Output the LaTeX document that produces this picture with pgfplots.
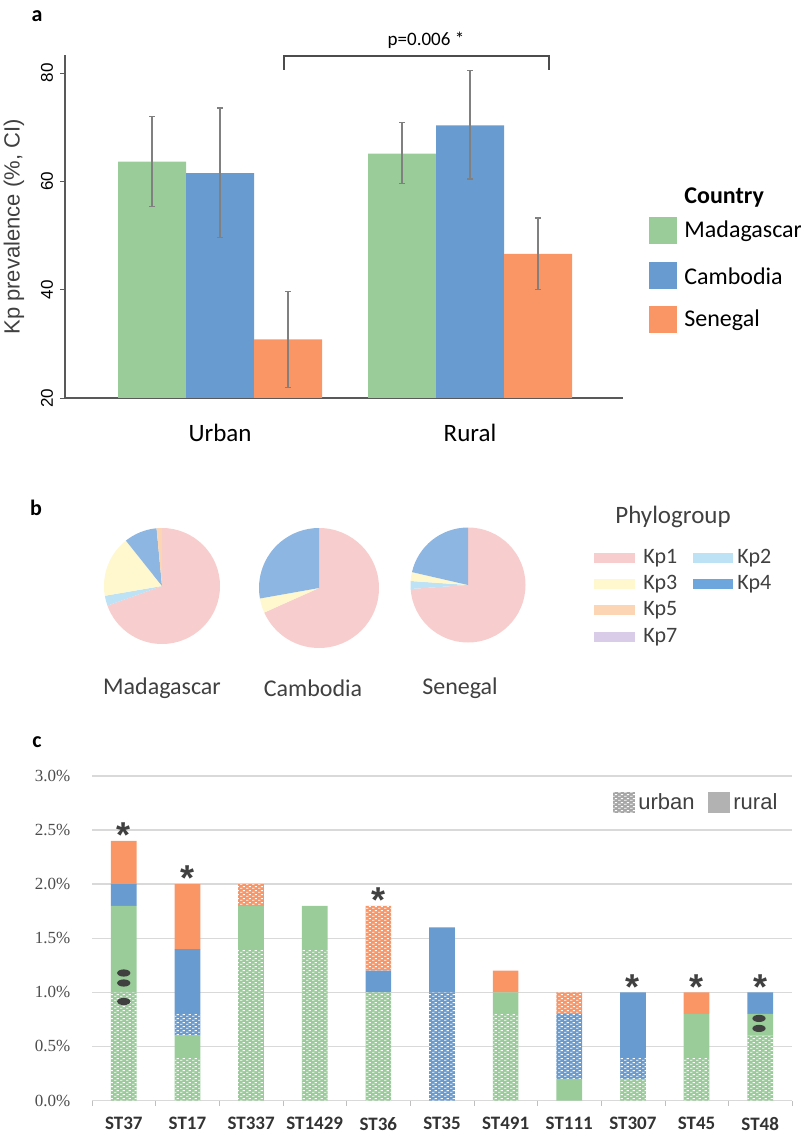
\documentclass[border=0pt]{standalone}
\usepackage{fontspec}
\setmainfont{Carlito}
\newfontfamily\arial{Liberation Sans}
\newfontfamily\tnr{Liberation Serif}
\usepackage{pgfplots}
\usepackage{pgfplotstable}
\pgfplotsset{compat=1.18}
\usetikzlibrary{patterns}

\pgfdeclarepatternformonly{ushade}{\pgfqpoint{0pt}{0pt}}{\pgfqpoint{3pt}{2pt}}{\pgfqpoint{3pt}{2pt}}{%
 \pgfpathrectangle{\pgfqpoint{0.1pt}{0.2pt}}{\pgfqpoint{1.3pt}{0.55pt}}%
 \pgfpathrectangle{\pgfqpoint{1.6pt}{1.2pt}}{\pgfqpoint{1.3pt}{0.55pt}}%
 \pgfusepath{fill}}

\definecolor{mg}{RGB}{153,204,153}
\definecolor{kh}{RGB}{104,155,208}
\definecolor{sn}{RGB}{250,150,102}
\definecolor{kpa}{RGB}{248,205,205}
\definecolor{kpb}{RGB}{189,226,245}
\definecolor{kpc}{RGB}{255,247,206}
\definecolor{kpd}{RGB}{141,182,226}
\definecolor{kpdl}{RGB}{108,166,220}
\definecolor{kpe}{RGB}{252,214,180}
\definecolor{kpg}{RGB}{216,204,232}
\definecolor{txt}{RGB}{64,64,64}

% panel c data: share of isolates (%)
\pgfplotstableread{
x st mgu mgr khu khr snu snr
0 ST37   1.0 0.8 0   0.2 0   0.4
1 ST17   0.4 0.2 0.2 0.6 0   0.6
2 ST337  1.4 0.4 0   0   0.2 0
3 ST1429 1.4 0.4 0   0   0   0
4 ST36   1.0 0   0   0.2 0.6 0
5 ST35   0   0   1.0 0.6 0   0
6 ST491  0.8 0.2 0   0   0   0.2
7 ST111  0   0.2 0.6 0   0.2 0
8 ST307  0.2 0   0.2 0.6 0   0
9 ST45   0.4 0.4 0   0   0   0.2
10 ST48  0.6 0.2 0   0.2 0   0
}\stdata

% pie slice: cx cy radius from% to% colour
\newcommand\pieslice[6]{\fill[#6] (axis cs:#1,#2) -- ++({90-3.6*#4}:#3) arc[start angle={90-3.6*#4}, end angle={90-3.6*#5}, radius=#3] -- cycle;}

\begin{document}
\begin{tikzpicture}
\path[use as bounding box] (0,0) rectangle (400pt,-566.5pt);

% ---------------- panel a ----------------
\begin{axis}[at={(32.5pt,-199pt)}, anchor=south west, scale only axis,
 width=279pt, height=171.5pt,
 xmin=-0.62, xmax=1.612, ymin=20, ymax=83.3,
 axis lines=left, axis line style={black!65, -, line width=0.6pt},
 ybar, bar width=0.272,
 xtick={0,1}, xticklabels={Urban,Rural},
 x tick style={draw=none},
 ytick={20,40,60,80}, tick align=outside, major tick length=2.5pt,
 y tick style={black!65},
 yticklabel style={rotate=90, anchor=south, font=\arial\fontsize{8.5}{9}\selectfont},
 xticklabel style={font=\fontsize{12.5}{14}\selectfont, yshift=-7pt},
 /pgf/number format/assume math mode=true,
 clip=false, enlargelimits=false,
 error bars/y dir=both, error bars/y explicit,
 error bars/error bar style={draw=black!50, line width=0.6pt},
 error bars/error mark options={rotate=90, draw=black!50, mark size=1.5pt, line width=0.6pt},
]
\addplot[fill=mg, draw=none, bar shift=-0.272] coordinates {(0,63.6) += (0,8.3) -= (0,8.2) (1,65.1) += (0,5.7) -= (0,5.5)};
\addplot[fill=kh, draw=none, bar shift=0] coordinates {(0,61.5) += (0,12.0) -= (0,11.9) (1,70.3) += (0,10.1) -= (0,9.9)};
\addplot[fill=sn, draw=none, bar shift=0.272] coordinates {(0,30.8) += (0,8.8) -= (0,8.8) (1,46.6) += (0,6.6) -= (0,6.6)};
\draw[black!70, line width=0.6pt] (axis cs:0.256,80.6) |- (axis cs:1.316,83.1) -- (axis cs:1.316,80.6);
\node[font=\fontsize{9.5}{11}\selectfont] at (axis cs:0.824,86.1) {p=0.006 *};
\end{axis}

% ---------------- panel c ----------------
\begin{axis}[at={(46pt,-550.25pt)}, anchor=south west, scale only axis,
 width=350pt, height=162.25pt,
 ybar stacked, bar width=0.404,
 xmin=-0.5, xmax=10.5, ymin=0, ymax=3,
 axis line style={draw=none},
 ymajorgrids, grid style={black!15, line width=0.7pt},
 ytick={0,0.5,...,3}, y tick style={draw=none},
 yticklabel={\pgfmathprintnumber[fixed,fixed zerofill,precision=1]{\tick}\%},
 yticklabel style={font=\tnr\fontsize{8.5}{9}\selectfont, text=black!70, xshift=-3pt},
 /pgf/number format/assume math mode=true,
 xtick=data, xticklabels from table={\stdata}{st},
 xtick pos=bottom, major x tick style={draw=none},
 minor xtick={-0.5,0.5,...,10.5}, minor x tick style={black!25},
 minor tick length=2.5pt, tick align=outside,
 xticklabel style={font=\bfseries\fontsize{9.5}{11}\selectfont, text=black!80, yshift=-0.5pt},
 clip=false, enlargelimits=false,
]
\addplot[fill=mg, draw=none, postaction={pattern=ushade, pattern color=white}] table[x=x,y=mgu]{\stdata};
\addplot[fill=mg, draw=none] table[x=x,y=mgr]{\stdata};
\addplot[fill=kh, draw=none, postaction={pattern=ushade, pattern color=white}] table[x=x,y=khu]{\stdata};
\addplot[fill=kh, draw=none] table[x=x,y=khr]{\stdata};
\addplot[fill=sn, draw=none, postaction={pattern=ushade, pattern color=white}] table[x=x,y=snu]{\stdata};
\addplot[fill=sn, draw=none] table[x=x,y=snr]{\stdata};
\foreach \xx/\yy in {0/2.4,1/2.0,4/1.8,8/1.0,9/1.0,10/1.0}{
 \edef\tmp{\noexpand\node[anchor=base, yshift=-3.4pt, text=black!75, font=\noexpand\arial\noexpand\bfseries\noexpand\fontsize{18}{18}\noexpand\selectfont] at (axis cs:\xx,\yy) {*};}\tmp}
\end{axis}

% ---------------- page overlay: pies, legends, labels ----------------
\begin{axis}[at={(0pt,-566.5pt)}, anchor=south west, scale only axis,
 width=400pt, height=566.5pt, xmin=0, xmax=800, ymin=-1133, ymax=0,
 hide axis, clip=false, enlargelimits=false]
% pies
\pieslice{162}{-586}{29pt}{0}{69.5}{kpa}
\pieslice{162}{-586}{29pt}{69.5}{72.3}{kpb}
\pieslice{162}{-586}{29pt}{72.3}{89.3}{kpc}
\pieslice{162}{-586}{29pt}{89.3}{98.5}{kpd}
\pieslice{162}{-586}{29pt}{98.5}{100}{kpe}
\pieslice{319}{-588}{30pt}{0}{68.3}{kpa}
\pieslice{319}{-588}{30pt}{68.3}{72.2}{kpc}
\pieslice{319}{-588}{30pt}{72.2}{100}{kpd}
\pieslice{468}{-585}{28.75pt}{0}{73.9}{kpa}
\pieslice{468}{-585}{28.75pt}{73.9}{76.1}{kpb}
\pieslice{468}{-585}{28.75pt}{76.1}{78.6}{kpc}
\pieslice{468}{-585}{28.75pt}{78.6}{100}{kpd}
\node[font=\fontsize{12}{14}\selectfont, text=txt] at (axis cs:162,-688) {Madagascar};
\node[font=\fontsize{12}{14}\selectfont, text=txt] at (axis cs:313,-688) {Cambodia};
\node[font=\fontsize{12}{14}\selectfont, text=txt] at (axis cs:460,-688) {Senegal};
% phylogroup legend
\node[font=\fontsize{12.5}{14}\selectfont, text=txt] at (axis cs:673,-517) {Phylogroup};
\fill[kpa] (axis cs:594,-553) rectangle (axis cs:635,-563);
\fill[kpc] (axis cs:594,-579) rectangle (axis cs:635,-589);
\fill[kpe] (axis cs:594,-605) rectangle (axis cs:635,-615);
\fill[kpg] (axis cs:594,-632) rectangle (axis cs:635,-642);
\fill[kpb] (axis cs:693,-553) rectangle (axis cs:733,-563);
\fill[kpdl] (axis cs:693,-579) rectangle (axis cs:733,-589);
\foreach \lab/\xx/\yy in {Kp1/643/558, Kp3/643/584, Kp5/643/610, Kp7/643/637, Kp2/737/558, Kp4/737/584}{
 \edef\tmp{\noexpand\node[anchor=west, inner sep=0pt, font=\noexpand\fontsize{11}{13}\noexpand\selectfont, text=txt] at (axis cs:\xx,-\yy) {\lab};}\tmp}
% country legend (panel a)
\node[anchor=west, inner sep=0pt, font=\bfseries\fontsize{12}{14}\selectfont] at (axis cs:684,-198) {Country};
\fill[mg] (axis cs:649,-217.5) rectangle (axis cs:677,-244.5);
\fill[kh] (axis cs:649,-262.5) rectangle (axis cs:677,-289.5);
\fill[sn] (axis cs:649,-306.5) rectangle (axis cs:677,-333.5);
\node[anchor=west, inner sep=0pt, font=\fontsize{12}{14}\selectfont] at (axis cs:684,-231) {Madagascar};
\node[anchor=west, inner sep=0pt, font=\fontsize{12}{14}\selectfont] at (axis cs:684,-276) {Cambodia};
\node[anchor=west, inner sep=0pt, font=\fontsize{12}{14}\selectfont] at (axis cs:684,-320) {Senegal};
% y label panel a
\node[rotate=90, font=\arial\fontsize{11}{13}\selectfont, text=txt] at (axis cs:14,-227) {Kp prevalence (\%, CI)};
% markers on ST37 and ST48 bars (panel c)
\fill[black!75] (axis cs:123.75,-973) ellipse[x radius=3.3pt, y radius=1.8pt];
\fill[black!75] (axis cs:123.75,-983) ellipse[x radius=3.3pt, y radius=1.8pt];
\fill[black!75] (axis cs:123.75,-1001.5) ellipse[x radius=3.3pt, y radius=1.8pt];
\fill[black!75] (axis cs:759,-1018.4) ellipse[x radius=3.3pt, y radius=1.8pt];
\fill[black!75] (axis cs:759,-1028.4) ellipse[x radius=3.3pt, y radius=1.8pt];
% urban/rural legend (panel c)
\fill[black!35, postaction={pattern=ushade, pattern color=white}] (axis cs:613,-792) rectangle (axis cs:635,-813);
\fill[black!30] (axis cs:708,-792) rectangle (axis cs:730,-813);
\node[anchor=west, inner sep=0pt, font=\arial\fontsize{11}{13}\selectfont, text=txt] at (axis cs:638,-802) {urban};
\node[anchor=west, inner sep=0pt, font=\arial\fontsize{11}{13}\selectfont, text=txt] at (axis cs:733,-802) {rural};
% panel letters
\node[font=\bfseries\fontsize{11}{13}\selectfont] at (axis cs:37,-16) {a};
\node[font=\bfseries\fontsize{11}{13}\selectfont] at (axis cs:36,-508) {b};
\node[font=\bfseries\fontsize{11}{13}\selectfont] at (axis cs:37,-742) {c};
\end{axis}
\end{tikzpicture}
\end{document}
